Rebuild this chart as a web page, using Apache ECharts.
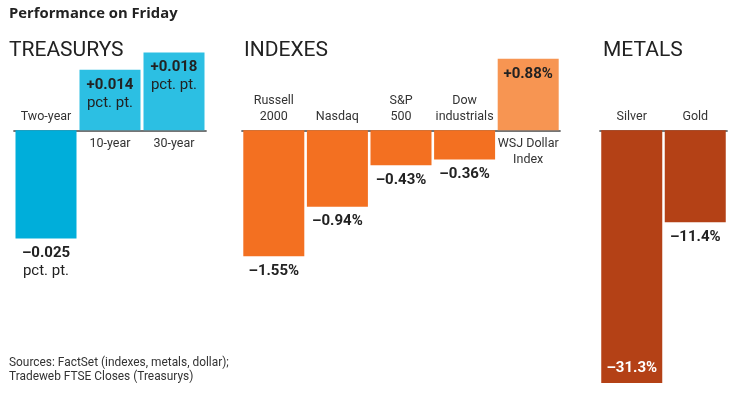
<!DOCTYPE html>
<html><head><meta charset="utf-8">
<script src="https://cdn.jsdelivr.net/npm/echarts@6/dist/echarts.min.js"></script>
<style>html,body{margin:0;padding:0;background:#fff}#c{width:736px;height:394px}</style>
</head><body><div id="c"></div>
<script>
// ---- data ----
const treasuryCats = ['Two-year', '10-year', '30-year'];
const treasuryVals = [-0.025, 0.014, 0.018];
const indexCats = ['Russell\n2000', 'Nasdaq', 'S&P\n500', 'Dow\nindustrials', 'WSJ Dollar\nIndex'];
const indexVals = [-1.55, -0.94, -0.43, -0.36, 0.88];
const metalCats = ['Silver', 'Gold'];
const metalVals = [-31.3, -11.4];

// ---- style ----
const FONT = 'Roboto, "Liberation Sans", sans-serif';
const TITLE_FONT = '"Open Sans", "Noto Sans", sans-serif';
const ZERO_Y = 130.3, TOP = 30, BOTTOM = 390;
const sign = v => (v < 0 ? '\u2013' : '+');

const groups = [
  { cats: treasuryCats, vals: treasuryVals, left: 14, width: 192, scale: 4325,
    colors: ['#00AEDA', '#2CBFE3', '#2CBFE3'],
    fmt: v => '{b|' + sign(v) + Math.abs(v).toFixed(3) + '}\n{n|pct. pt.}', inside: [] },
  { cats: indexCats, vals: indexVals, left: 242, width: 318, scale: 81.2,
    colors: ['#F37021', '#F37021', '#F37021', '#F37021', '#F79552'],
    fmt: v => '{b|' + sign(v) + Math.abs(v).toFixed(2) + '%}', inside: [] },
  { cats: metalCats, vals: metalVals, left: 600, width: 127, scale: 8.07,
    colors: ['#B44116', '#B44116'],
    fmt: v => '{b|' + sign(v) + Math.abs(v).toFixed(1) + '%}', inside: [0] }
];

const grid = [], xAxis = [], yAxis = [], series = [];
const catLabel = { color: '#333', fontSize: 12.5, fontFamily: FONT, lineHeight: 15.5, margin: 6 };
const axisLine = { show: true, onZero: false, lineStyle: { color: '#6e6e6e', width: 1.5 } };

groups.forEach((g, i) => {
  grid.push({ left: g.left, width: g.width, top: TOP, height: BOTTOM - TOP, outerBoundsMode: 'none', containLabel: false });
  yAxis.push({ type: 'value', gridIndex: i, show: false,
    min: -(BOTTOM - ZERO_Y) / g.scale, max: (ZERO_Y - TOP) / g.scale });
  // labels below the zero line (positive bars)
  xAxis.push({ type: 'category', gridIndex: i, data: g.cats, position: 'bottom', offset: ZERO_Y - BOTTOM,
    axisLine: axisLine, axisTick: { show: false },
    axisLabel: Object.assign({ interval: 0,
      formatter: (name, idx) => (g.vals[idx] > 0 ? name : '') }, catLabel) });
  // labels above the zero line (negative bars)
  xAxis.push({ type: 'category', gridIndex: i, data: g.cats, position: 'bottom', offset: ZERO_Y - BOTTOM,
    axisLine: axisLine, axisTick: { show: false },
    axisLabel: Object.assign({ interval: 0, inside: true,
      formatter: (name, idx) => (g.vals[idx] < 0 ? name : '') }, catLabel) });
  series.push({
    type: 'bar', xAxisIndex: 2 * i, yAxisIndex: i, barWidth: 61, z: 1,
    data: g.vals.map((v, j) => {
      const inBar = g.inside.indexOf(j) >= 0;
      return {
        value: v,
        itemStyle: { color: g.colors[j] },
        label: {
          show: true,
          position: v > 0 ? 'insideTop' : (inBar ? 'insideBottom' : 'bottom'),
          distance: v > 0 ? 6 : (inBar ? 6 : 6),
          formatter: p => g.fmt(p.value),
          rich: {
            b: { fontSize: 15, fontWeight: 'bold', fontFamily: FONT, lineHeight: 18,
                 color: inBar ? '#fff' : '#222' },
            n: { fontSize: 15, fontFamily: FONT, lineHeight: 18, color: '#222' }
          }
        }
      };
    })
  });
});

const chart = echarts.init(document.getElementById('c'), null, { renderer: 'canvas' });
chart.setOption({
  animation: false,
  title: [
    { text: 'Performance on Friday', left: 9, top: 6, padding: 0,
      textStyle: { fontSize: 14.8, fontWeight: 'bold', color: '#222', fontFamily: TITLE_FONT } },
    { text: 'TREASURYS', left: 9, top: 40, padding: 0,
      textStyle: { fontSize: 21, fontWeight: 'normal', color: '#222', fontFamily: FONT } },
    { text: 'INDEXES', left: 244, top: 40, padding: 0,
      textStyle: { fontSize: 21, fontWeight: 'normal', color: '#222', fontFamily: FONT } },
    { text: 'METALS', left: 603, top: 40, padding: 0,
      textStyle: { fontSize: 21, fontWeight: 'normal', color: '#222', fontFamily: FONT } },
    { text: 'Sources: FactSet (indexes, metals, dollar);\nTradeweb FTSE Closes (Treasurys)', left: 9, top: 356, padding: 0,
      textStyle: { fontSize: 11.9, fontWeight: 'normal', color: '#333', fontFamily: FONT, lineHeight: 14 } }
  ],
  grid, xAxis, yAxis, series
});
</script></body></html>
